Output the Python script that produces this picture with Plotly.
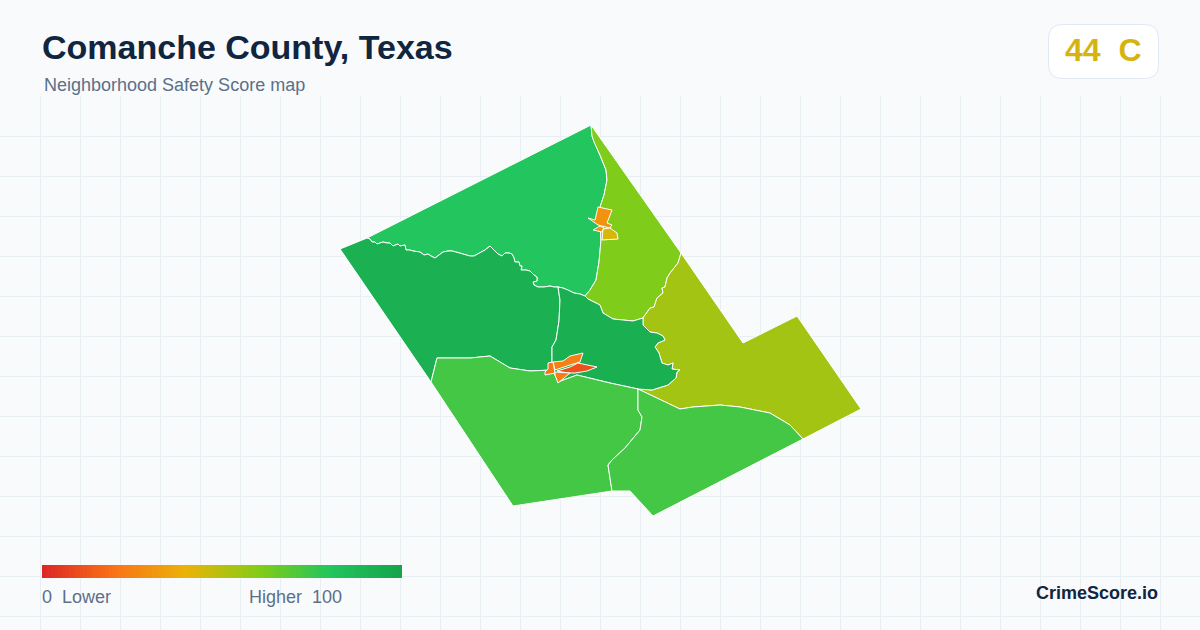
import plotly.graph_objects as go
from plotly.colors import sample_colorscale

# map units: 1 unit = 1 screen px at this zoom, origin at the county's SW-most bounds
river_west = [(27,278),(30,277),(32,274),(35,274),(37,272),(40,273),(43,274),(47,273),(50,273),(53,270),(55,271),(58,272),
              (60,270),(65,271),(66,266),(70,266),(73,265),(77,264),(80,264),(84,261),(88,262),(91,260),(95,258),(99,261),
              (103,264),(108,265),(112,265),(116,264),(120,263),(125,261),(130,260),(134,260),(138,262),(142,264),(145,266),
              (150,270),(153,267),(155,265),(158,262),(162,260),(165,263),(169,263),(172,262),(174,258),(175,254),(179,254),
              (180,250),(182,250),(181,246),(186,246),(190,245),(194,241),(197,239),(197,235),(193,234),(194,231),(198,229),
              (204,229),(210,230),(214,229),(218,229)]
river_east = [(218,229),(223,228),(228,226),(234,223),(240,222),(245,220)]
ne_west = [(251,391),(252,380),(254,374),(260,361),(266,346),(267,336),(264,321),(260,309),(260,291),(261,276),(259,254),
           (256,236),(250,226),(245,220)]
lime_bottom = [(245,220),(248,217),(260,211),(263,203),(273,197),(293,195),(303,198)]
lime_olive = [(303,198),(310,208),(314,209),(317,218),(323,223),(322,228),(325,229),(327,238),(330,243),(338,253),(341,263)]
dark_olive = [(303,198),(303,191),(306,188),(310,184),(317,183),(323,180),(325,176),(318,173),(315,169),(319,163),(322,153),
              (328,151),(333,153),(332,147),(340,146),(337,144),(336,138),(328,131),(312,126),(298,127)]
olive_bottom = [(298,127),(340,107),(353,109),(380,111),(400,109),(430,103),(450,91),(463,77)]
south_west = [(91,134),(97,158),(130,158),(150,160),(170,148),(190,145),(211,146)]
south_east = [(211,146),(215,141),(218,134),(237,141),(270,133),(298,127)]
west_vertical = [(218,229),(220,216),(219,195),(216,176),(212,169),(212,154),(211,146)]
south_vertical = [(298,127),(298,106),(302,99),(300,86),(285,68),(272,56),(268,51),(272,25)]

top_outer = [(251,391),(27,278)]
west_outer = [(27,278),(0,267),(91,134)]
lime_outer = [(341,263),(251,391)]
olive_outer = [(341,263),(403,173),(457,200),(521,107),(463,77)]
sw_outer = [(272,25),(173,10),(91,134)]
se_outer = [(463,77),(313,0),(290,25),(272,25)]

tract_names = ["North", "Northeast", "East", "West", "Central", "Southwest", "Southeast"]
tract_scores = [80, 61, 54, 92, 93, 73, 73]
tract_shapes = [
    top_outer + river_west + river_east + ne_west[::-1],
    ne_west + lime_bottom + lime_olive + lime_outer,
    lime_olive + olive_outer + olive_bottom[::-1] + dark_olive[::-1],
    west_outer[:2][::-1] + river_west + west_vertical + south_west[::-1],
    river_east + lime_bottom + dark_olive + south_east[::-1] + west_vertical[::-1],
    south_west + south_east + south_vertical + sw_outer,
    olive_bottom + se_outer + south_vertical[::-1],
]

town_names = ["North town A", "North town B", "North town C", "Town north", "Town east", "Town west", "Town south"]
town_scores = [30, 30, 44, 24, 11, 21, 23]
town_shapes = [
    [(258,309),(272,306),(267,293),(272,291),(270,288),(258,291),(248,298),(255,296)],
    [(260,290),(253,286),(262,284),(264,288)],
    [(263,287),(270,288),(277,283),(278,277),(262,276)],
    [(215,146),(213,154),(223,155),(230,160),(243,163),(240,154),(230,151),(217,146)],
    [(217,145),(230,149),(238,153),(257,149),(247,145),(235,143),(228,143)],
    [(208,153),(213,154),(215,143),(205,141),(205,144),(208,147)],
    [(215,144),(230,143),(218,133),(215,141)],
]

legend_values = list(range(0, 101))
scale = [[0, "#dc2626"], [0.2, "#f97316"], [0.4, "#eab308"], [0.6, "#84cc16"], [0.8, "#22c55e"], [1, "#16a34a"]]

W, H = 1200, 630
fig = go.Figure()


def add_area(name, score, pts):
    xs = [p[0] for p in pts] + [pts[0][0]]
    ys = [p[1] for p in pts] + [pts[0][1]]
    fill = sample_colorscale(scale, score / 100)[0]
    fig.add_trace(go.Scatter(x=xs, y=ys, mode="lines", fill="toself", fillcolor=fill, name=name,
                             line=dict(color="white", width=1), hoverinfo="name"))


for n, s, p in zip(tract_names, tract_scores, tract_shapes):
    add_area(n, s, p)
for n, s, p in zip(town_names, town_scores, town_shapes):
    add_area(n, s, p)

fig.add_trace(go.Heatmap(x=legend_values, y=[0], z=[legend_values], colorscale=scale, zmin=0, zmax=100,
                         showscale=False, hoverinfo="skip", xaxis="x2", yaxis="y2"))


def text(s, x, y, size, color, bold=False, anchor="left"):
    fig.add_annotation(text=f"<b>{s}</b>" if bold else s, xref="paper", yref="paper", x=x / W, y=1 - y / H,
                       xanchor=anchor, yanchor="middle", showarrow=False,
                       font=dict(family="Liberation Sans", size=size, color=color))


text("Comanche County, Texas", 40, 47, 34, "#0f2540", True)
text("Neighborhood Safety Score map", 42, 85, 18, "#5b7089")
text("44\u00a0\u00a0C", 1102.5, 50, 32, "#d6b40f", True, "center")
text("0\u00a0\u00a0Lower", 40, 597, 18, "#5b7089")
text("Higher\u00a0\u00a0100", 344, 597, 18, "#5b7089", False, "right")
text("CrimeScore.io", 1160, 593, 18, "#0f2540", True, "right")

# badge, rounded corners
x0, x1, y0, y1, r = 1048.5 / W, 1158.5 / W, 1 - 78.5 / H, 1 - 24.5 / H, 14
rx, ry = r / W, r / H
badge = (f"M{x0+rx},{y1} L{x1-rx},{y1} Q{x1},{y1} {x1},{y1-ry} L{x1},{y0+ry} Q{x1},{y0} {x1-rx},{y0} "
         f"L{x0+rx},{y0} Q{x0},{y0} {x0},{y0+ry} L{x0},{y1-ry} Q{x0},{y1} {x0+rx},{y1} Z")
fig.add_shape(type="path", path=badge, xref="paper", yref="paper", fillcolor="white",
              line=dict(color="#e2e8f0", width=1), layer="below")

fig.update_layout(
    width=W, height=H, margin=dict(l=0, r=0, t=0, b=0), showlegend=False,
    paper_bgcolor="#f8fafc", plot_bgcolor="#f8fafc",
    xaxis=dict(range=[-340, 860], domain=[0, 1], tick0=-340, dtick=40, showgrid=True, gridcolor="#e8eff3", gridwidth=1,
               zeroline=False, showticklabels=False, ticks=""),
    yaxis=dict(range=[-114, 420.5], domain=[0, 534.5 / 630], tick0=420, dtick=40, showgrid=True, gridcolor="#e8eff3",
               gridwidth=1, zeroline=False, showticklabels=False, ticks=""),
    xaxis2=dict(domain=[42 / W, 402 / W], anchor="y2", visible=False, range=[0, 100]),
    yaxis2=dict(domain=[1 - 578 / H, 1 - 565 / H], anchor="x2", visible=False),
)

fig.write_html("out.html", config={"displayModeBar": False}, post_script="document.body.style.margin='0';")
